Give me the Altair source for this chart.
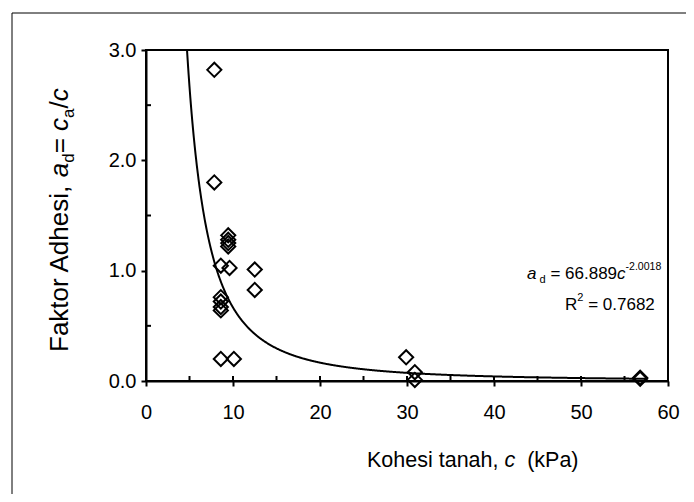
import altair as alt
import pandas as pd

# ---- data ----
cohesion = [7.85, 7.85, 9.45, 9.45, 9.45, 9.45, 8.6, 9.6, 12.5, 12.5,
            8.6, 8.6, 8.6, 8.6, 8.6, 10.1, 29.9, 30.9, 30.9, 56.8, 56.8]
adhesion = [2.82, 1.80, 1.32, 1.28, 1.25, 1.22, 1.045, 1.025, 1.01, 0.825,
            0.76, 0.72, 0.67, 0.64, 0.20, 0.20, 0.215, 0.08, 0.01, 0.03, 0.02]

coef_a = 66.889
coef_b = -2.0018
r_squared = "0.7682"

x_labels = [0, 10, 20, 30, 40, 50, 60]
y_labels = [0, 1, 2, 3]
x_major = [10, 20, 30, 40, 50]
x_minor = [5, 15, 25, 35, 45, 55]
y_minor = [0.5, 1.5, 2.5]

FONT = "Liberation Sans"
W, H = 522, 331

df = pd.DataFrame({"c": cohesion, "ad": adhesion})

xs = alt.Scale(domain=[0, 60], nice=False, zero=False)
ys = alt.Scale(domain=[0, 3], nice=False, zero=False)

LS = 20  # tick label size
xaxis = alt.Axis(values=x_labels, format="d", title=None, labelFlush=False,
                 tickSize=5, tickWidth=2, tickColor="black", domainWidth=2, domainColor="black",
                 labelFont=FONT, labelFontSize=LS, labelColor="black", labelPadding=16,
                 grid=False)
yaxis = alt.Axis(values=y_labels, format=".1f", title=None, labelFlush=False,
                 tickSize=5, tickWidth=2, tickColor="black", domainWidth=2, domainColor="black",
                 labelFont=FONT, labelFontSize=LS, labelColor="black", labelPadding=5,
                 grid=False)

# Arial / Liberation Sans advance widths (per 1000 em)
CW = {" ": 278, ".": 278, ",": 278, "=": 584, "-": 333, "(": 333, ")": 333, "/": 278,
      "A": 667, "F": 611, "K": 667, "P": 667, "R": 722,
      "a": 556, "c": 500, "d": 556, "e": 556, "h": 556, "i": 222, "k": 500,
      "n": 556, "o": 556, "r": 333, "s": 500, "t": 278}


def tw(text, size):
    return sum(CW.get(ch, 556) for ch in text) * size / 1000.0


one = pd.DataFrame({"k": [0]})


def piece(text, x, y, size, italic=False, angle=0):
    return alt.Chart(one).mark_text(
        text=text, font=FONT, fontSize=size, color="black",
        fontStyle="italic" if italic else "normal",
        angle=angle, align="left", baseline="alphabetic",
    ).encode(x=alt.value(x), y=alt.value(y))


def run(parts, x0, y0, vertical=False):
    """parts: (text, size, italic, shift) ; shift >0 = below baseline"""
    layers = []
    pos = 0.0
    for text, size, italic, shift in parts:
        lead = len(text) - len(text.lstrip(" "))
        pos += tw(" " * lead, size)
        body = text.strip(" ")
        if body:
            if vertical:
                layers.append(piece(body, x0 + shift, y0 - pos, size, italic, 270))
            else:
                layers.append(piece(body, x0 + pos, y0 + shift, size, italic))
        pos += tw(text.lstrip(" "), size)
    return layers


TY = 26   # y title size
TX = 21.5   # x title size
AS = 17   # annotation size

ytitle = run([("Faktor Adhesi, ", TY, False, 0), ("a", TY, True, 0), ("d", TY * 0.65, False, 6),
              ("= ", TY, False, 0), ("c", TY, True, 0), ("a", TY * 0.65, False, 6),
              ("/", TY, False, 0), ("c", TY, True, 0)],
             68 - 146, 352 - 50, vertical=True)

xtitle = run([("Kohesi tanah, ", TX, False, 0), ("c", TX, True, 0), ("  (kPa)", TX, False, 0)],
             367 - 146, 467 - 50)

eq1 = run([("a", AS, True, 0), (" d", AS * 0.65, False, 4), (" = 66.889", AS, False, 0),
           ("c", AS, True, 0), ("%.4f" % coef_b, AS * 0.62, False, -9)],
          527 - 146, 279 - 50)
eq2 = run([("R", AS, False, 0), ("2", AS * 0.65, False, -9), (" = " + r_squared, AS, False, 0)],
          565 - 146, 310 - 50)

frame = alt.Chart(one).mark_rect(fill=None, stroke="black", strokeWidth=1).encode(
    x=alt.value(-134), y=alt.value(-37), x2=alt.value(W + 30), y2=alt.value(H + 130))

points = alt.Chart(df).mark_point(
    shape="diamond", filled=False, color="black", size=200, strokeWidth=2, opacity=1
).encode(
    x=alt.X("c:Q", scale=xs, axis=xaxis),
    y=alt.Y("ad:Q", scale=ys, axis=yaxis),
)

curve = alt.Chart(alt.sequence(4.6, 57.6, 0.05, as_="c")).transform_calculate(
    ad="%f * pow(datum.c, %f)" % (coef_a, coef_b)
).transform_filter("datum.ad <= 3.2").mark_line(
    color="black", strokeWidth=2, clip=True
).encode(x=alt.X("c:Q", scale=xs, axis=xaxis), y=alt.Y("ad:Q", scale=ys, axis=yaxis))

xin = alt.Chart(pd.DataFrame({"c": x_major + x_minor})).mark_rule(
    color="black", strokeWidth=2).encode(
    x=alt.X("c:Q", scale=xs, axis=xaxis), y=alt.value(H), y2=alt.value(H - 5))
yin = alt.Chart(pd.DataFrame({"ad": y_minor})).mark_rule(
    color="black", strokeWidth=2).encode(
    y=alt.Y("ad:Q", scale=ys, axis=yaxis), x=alt.value(0), x2=alt.value(5))

chart = alt.layer(
    frame, xin, yin, curve, points, *ytitle, *xtitle, *eq1, *eq2
).properties(
    width=W, height=H,
    autosize=alt.AutoSizeParams(type="none"),
    padding={"left": 138, "top": 42, "right": 18, "bottom": 113},
    background="white",
).configure_view(stroke="black", strokeWidth=2)

chart.save("out.html", embed_options={"renderer": "svg", "actions": False})
